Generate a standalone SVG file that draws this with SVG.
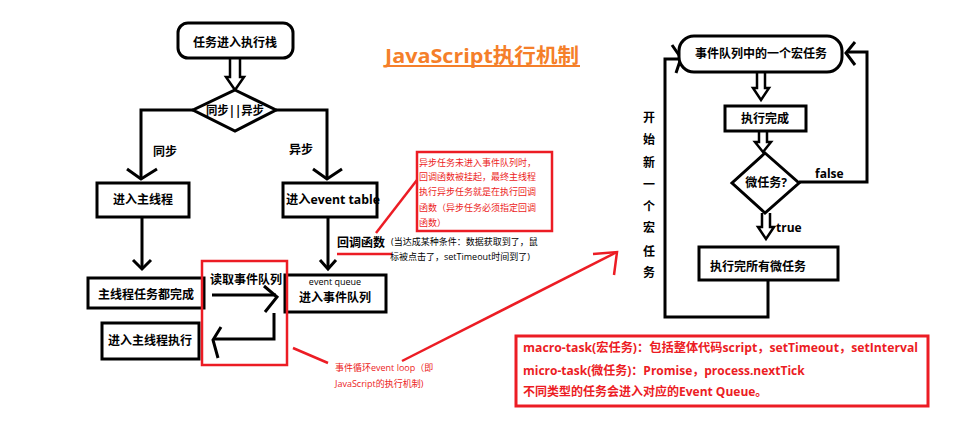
<svg xmlns="http://www.w3.org/2000/svg" width="960" height="430" viewBox="0 0 960 430">
<style>
.bx{fill:#fff;stroke:#000;stroke-width:3}
.ln{fill:none;stroke:#000;stroke-width:3;stroke-linejoin:miter}
.ha{fill:#fff;stroke:#000;stroke-width:2.5;stroke-linejoin:miter}
.rd{fill:none;stroke:#ec1c24;stroke-width:2.5}
.t{font-family:"Open Sans","Noto Sans CJK SC",sans-serif;font-weight:bold;font-size:12px;fill:#000}
.s{font-family:"Open Sans","Noto Sans CJK SC",sans-serif;font-size:9px;fill:#000}
.r{font-family:"Open Sans","Noto Sans CJK SC",sans-serif;font-size:9px;fill:#ec1c24}
.ri{font-family:"Open Sans","Noto Sans CJK SC",sans-serif;font-weight:bold;font-size:12px;fill:#ec1c24}
</style>
<rect width="960" height="430" fill="#fff"/>
<g id="title">
<text x="385" y="63" font-family="'Open Sans','Noto Sans CJK SC',sans-serif" font-weight="bold" font-size="20" fill="#f57f2a" textLength="194" lengthAdjust="spacingAndGlyphs">JavaScript执行机制</text>
<line x1="385" y1="66" x2="580" y2="66" stroke="#f57f2a" stroke-width="2"/>
</g>
<g id="connectors">
<path class="ha" d="M230,58 V77 H226 L235,90 L244,77 H240 V58"/>
<path class="ln" d="M193,110 H141 V179"/>
<polyline class="ln" points="127,169 141,179 157,169"/>
<path class="ln" d="M276,110 H327 V179"/>
<polyline class="ln" points="313,169 327,179 342,169"/>
<path class="ln" d="M142,217 V269"/>
<polyline class="ln" points="133,260 142,269 151,260"/>
<path class="ln" d="M328,217 V269"/>
<polyline class="ln" points="320,260 328,269 336,260"/>
<path class="ln" d="M212,295 H276"/>
<polyline class="ln" points="264,286 277,297 265,312"/>
<path class="ln" d="M274,313 V339 H214"/>
<polyline class="ln" points="221,327 213,340 218,358"/>
<path class="ha" d="M757,72 V88 H753 L761,100 L769,88 H765 V72"/>
<path class="ha" d="M759,131 V142 H755 L763,152 L771,142 H767 V131"/>
<path class="ha" d="M762,213 V227 H758 L766,239 L774,227 H770 V213"/>
<path class="ln" d="M768,280 V317 H665 V59 H680"/>
<polyline class="ln" points="672,45 681,58 676,73"/>
<path class="ln" d="M799,182 H867 V52 H847"/>
<polyline class="ln" points="855,42 846,53 855,65"/>
<line x1="376" y1="233" x2="417" y2="180" class="rd"/>
<line x1="337" y1="254" x2="392" y2="254" class="rd"/>
<line x1="293" y1="348" x2="328" y2="363" class="rd"/>
<line x1="402" y1="361" x2="617" y2="252" class="rd"/>
<polyline class="rd" points="593,254 617,252 614,275"/>
</g>
<g id="n-stack">
<rect class="bx" x="178" y="23" width="115" height="35" rx="10"/>
<text class="t" x="235" y="47" text-anchor="middle">任务进入执行栈</text>
</g>
<g id="n-sync">
<polygon class="bx" points="235,90 276,110 235,131 193,110"/>
<text class="t" x="206" y="115" textLength="58" lengthAdjust="spacingAndGlyphs">同步||异步</text>
</g>
<g id="lbl-sync"><text class="t" x="153" y="156">同步</text></g>
<g id="lbl-async"><text class="t" x="289" y="154">异步</text></g>
<g id="n-main">
<rect class="bx" x="97" y="183" width="92" height="34"/>
<text class="t" x="143" y="204" text-anchor="middle">进入主线程</text>
</g>
<g id="n-table">
<rect class="bx" x="283" y="183" width="94" height="34"/>
<text class="t" x="286" y="204" textLength="94" lengthAdjust="spacingAndGlyphs">进入event table</text>
</g>
<g id="lbl-callback">
<text class="t" x="337" y="247">回调函数</text>
<text class="s" x="391" y="245">(当达成某种条件：数据获取到了，鼠</text>
<text class="s" x="390" y="260">标被点击了，setTimeout时间到了)</text>
</g>
<g id="note-callback">
<rect class="rd" x="417" y="152" width="135" height="79"/>
<text class="r" x="419" y="166">异步任务未进入事件队列时，</text>
<text class="r" x="419" y="180">回调函数被挂起，最终主线程</text>
<text class="r" x="419" y="195">执行异步任务就是在执行回调</text>
<text class="r" x="419" y="211">函数（异步任务必须指定回调</text>
<text class="r" x="419" y="226">函数）</text>
</g>
<g id="n-done">
<rect class="bx" x="88" y="278" width="116" height="30"/>
<text class="t" x="146" y="299" text-anchor="middle">主线程任务都完成</text>
</g>
<g id="n-queue">
<rect class="bx" x="285" y="275" width="101" height="37"/>
<text class="s" x="335" y="285" text-anchor="middle">event queue</text>
<text class="t" x="335" y="302" text-anchor="middle">进入事件队列</text>
</g>
<g id="n-exec">
<rect class="bx" x="102" y="323" width="97" height="36"/>
<text class="t" x="150" y="345" text-anchor="middle">进入主线程执行</text>
</g>
<g id="loop-box">
<rect class="rd" x="202" y="261" width="85" height="104"/>
<text class="t" x="210" y="284">读取事件队列</text>
</g>
<g id="lbl-loop">
<text class="r" x="335" y="371">事件循环event loop（即</text>
<text class="r" x="335" y="387">JavaScript的执行机制)</text>
</g>
<g id="n-macro">
<rect class="bx" x="679" y="36" width="163" height="36" rx="15"/>
<text class="t" x="761" y="58" text-anchor="middle">事件队列中的一个宏任务</text>
</g>
<g id="n-finish">
<rect class="bx" x="725" y="106" width="81" height="25"/>
<text class="t" x="765" y="123" text-anchor="middle">执行完成</text>
</g>
<g id="n-micro">
<polygon class="bx" points="765,153 799,183 765,213 732,183"/>
<text class="t" x="766" y="187" text-anchor="middle">微任务?</text>
</g>
<g id="lbl-false"><text class="t" x="815" y="178">false</text></g>
<g id="lbl-true"><text class="t" x="776" y="232">true</text></g>
<g id="n-allmicro">
<rect class="bx" x="699" y="247" width="139" height="33"/>
<text class="t" x="710" y="271">执行完所有微任务</text>
</g>
<g id="lbl-new" class="t" text-anchor="middle">
<text x="649" y="122">开</text>
<text x="649" y="144">始</text>
<text x="649" y="167">新</text>
<text x="649" y="189">一</text>
<text x="649" y="211">个</text>
<text x="649" y="232">宏</text>
<text x="649" y="256">任</text>
<text x="649" y="277">务</text>
</g>
<g id="note-tasks">
<rect x="516" y="336" width="412" height="70" fill="none" stroke="#ec1c24" stroke-width="3"/>
<text class="ri" x="523" y="352" textLength="395" lengthAdjust="spacingAndGlyphs">macro-task(宏任务)：包括整体代码script，setTimeout，setInterval</text>
<text class="ri" x="523" y="375">micro-task(微任务)：Promise，process.nextTick</text>
<text class="ri" x="523" y="396">不同类型的任务会进入对应的Event Queue。</text>
</g>
</svg>
